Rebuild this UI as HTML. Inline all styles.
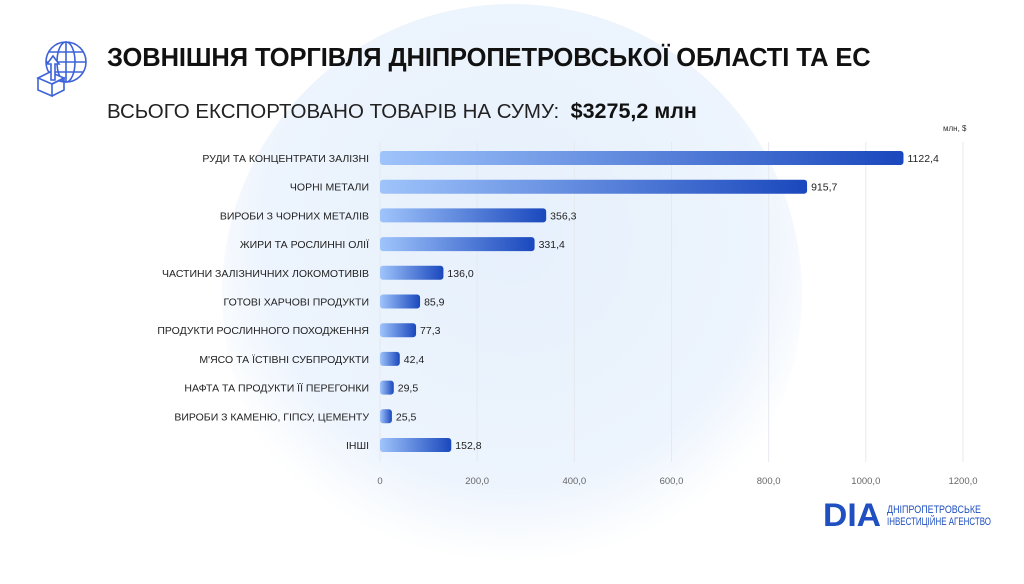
<!DOCTYPE html>
<html><head><meta charset="utf-8">
<style>
html,body{margin:0;padding:0;}
body{width:1024px;height:576px;position:relative;overflow:hidden;background:#fff;font-family:"Liberation Sans","DejaVu Sans",sans-serif;}
.bgc{position:absolute;left:222px;top:4px;width:580px;height:580px;border-radius:50%;background:radial-gradient(circle at 50% 40%,#e6f0fc 0%,#edf4fd 55%,rgba(244,248,254,0) 72%);}
.h1{position:absolute;left:107px;top:44px;font-size:25.5px;font-weight:bold;color:#111;letter-spacing:-0.1px;white-space:nowrap;}
.h2{position:absolute;left:107px;top:99px;font-size:20.5px;color:#222;white-space:nowrap;}
.h2 b{color:#111;font-size:21.5px;}
.unit{position:absolute;left:943px;top:124px;font-size:8px;color:#333;}
.logo{position:absolute;left:823px;top:496px;}
</style></head><body>
<div class="bgc"></div>
<svg style="position:absolute;left:34px;top:38px" width="56" height="60" viewBox="0 0 56 60" fill="none" stroke="#3d63d8" stroke-width="1.6">
<circle cx="32" cy="24" r="20"/><ellipse cx="32" cy="24" rx="9" ry="20"/><line x1="12" y1="24" x2="52" y2="24"/><line x1="15" y1="14" x2="49" y2="14"/><line x1="15" y1="34" x2="49" y2="34"/><line x1="32" y1="4" x2="32" y2="44"/>
<path d="M4 40 L16 34 L30 40 L18 46 Z" fill="#fff"/><path d="M4 40 V52 L18 58 V46"/><path d="M18 46 L30 40 V52 L18 58"/>
<path d="M17 42 V26 H13 L19 18 L25 26 H21 V42 Z" fill="#fff"/>
</svg>
<div class="h1">ЗОВНІШНЯ ТОРГІВЛЯ ДНІПРОПЕТРОВСЬКОЇ ОБЛАСТІ ТА ЕС</div>
<div class="h2">ВСЬОГО ЕКСПОРТОВАНО ТОВАРІВ НА СУМУ:&nbsp; <b>$3275,2 млн</b></div>
<div class="unit">млн, $</div>
<svg id="chart" style="position:absolute;left:0;top:0" width="1024" height="576"></svg>
<div class="logo">
<svg width="170" height="34" viewBox="0 0 170 34">
<text x="0" y="30" font-family="Liberation Sans,sans-serif" font-weight="bold" font-size="32" fill="#1f4fc0" textLength="58" lengthAdjust="spacingAndGlyphs">DIA</text>
<text x="64" y="17" font-family="Liberation Sans,sans-serif" font-size="11" fill="#1f4fc0" textLength="94" lengthAdjust="spacingAndGlyphs">ДНІПРОПЕТРОВСЬКЕ</text>
<text x="64" y="29" font-family="Liberation Sans,sans-serif" font-size="11" fill="#1f4fc0" textLength="104" lengthAdjust="spacingAndGlyphs">ІНВЕСТИЦІЙНЕ АГЕНСТВО</text>
</svg></div>
<script>
const categories=["РУДИ ТА КОНЦЕНТРАТИ ЗАЛІЗНІ","ЧОРНІ МЕТАЛИ","ВИРОБИ З ЧОРНИХ МЕТАЛІВ","ЖИРИ ТА РОСЛИННІ ОЛІЇ","ЧАСТИНИ ЗАЛІЗНИЧНИХ ЛОКОМОТИВІВ","ГОТОВІ ХАРЧОВІ ПРОДУКТИ","ПРОДУКТИ РОСЛИННОГО ПОХОДЖЕННЯ","М'ЯСО ТА ЇСТІВНІ СУБПРОДУКТИ","НАФТА ТА ПРОДУКТИ ЇЇ ПЕРЕГОНКИ","ВИРОБИ З КАМЕНЮ, ГІПСУ, ЦЕМЕНТУ","ІНШІ"];
const values=[1122.4,915.7,356.3,331.4,136.0,85.9,77.3,42.4,29.5,25.5,152.8];
const valueLabels=["1122,4","915,7","356,3","331,4","136,0","85,9","77,3","42,4","29,5","25,5","152,8"];
const ticks=[0,200,400,600,800,1000,1200];
const tickLabels=["0","200,0","400,0","600,0","800,0","1000,0","1200,0"];
const NS="http://www.w3.org/2000/svg";
const svg=document.getElementById('chart');
const x0=380,x1=963,max=1200,barMax=1250;
const xs=v=>x0+(v/max)*(x1-x0);
const xb=v=>x0+(v/barMax)*(x1-x0);
const y0=158,step=28.7;
const ys=i=>y0+i*step;
function mk(t,a){const e=document.createElementNS(NS,t);for(const k in a)e.setAttribute(k,a[k]);svg.appendChild(e);return e;}
const defs=document.createElementNS(NS,'defs');
defs.innerHTML='<linearGradient id="g" x1="0" x2="1" y1="0" y2="0"><stop offset="0" stop-color="#9fc4fb"/><stop offset="1" stop-color="#1a48bd"/></linearGradient>';
svg.appendChild(defs);
ticks.forEach((t,i)=>{
  const gl=mk('line',{x1:xs(t),x2:xs(t),y1:142,y2:462,stroke:'#e6e9ef','stroke-width':1});
  
  
  const tl=mk('text',{x:xs(t),y:484,'text-anchor':'middle','font-size':9.5,fill:'#666'});
  tl.textContent=tickLabels[i];
  
  
});
categories.forEach((c,i)=>{
  const y=ys(i);
  const lb=mk('text',{x:369,y:y+4,'text-anchor':'end','font-size':10.5,fill:'#222'});
  lb.textContent=c;
  
  
  const w=Math.max(xb(values[i])-x0,4);
  const r=mk('rect',{x:x0,y:y-7,width:w,height:14,rx:3,fill:'url(#g)'});
  
  
  const vl=mk('text',{x:x0+w+4,y:y+4,'font-size':10.5,fill:'#222'});
  vl.textContent=valueLabels[i];
  
  
});
</script>
</body></html>
